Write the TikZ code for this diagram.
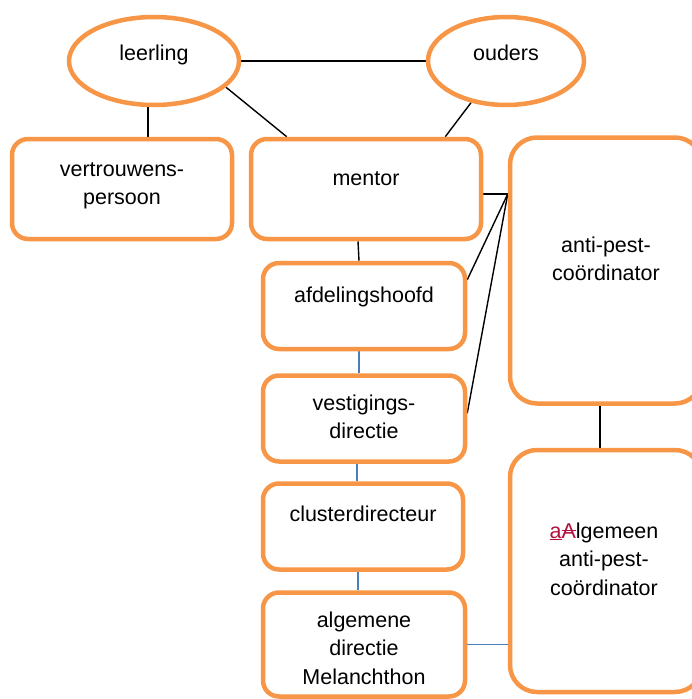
\documentclass[tikz,border=0pt]{standalone}
\usepackage{fontspec}
\setmainfont{Liberation Sans}
\usetikzlibrary{shapes.geometric,calc,backgrounds}
\definecolor{accorange}{HTML}{F79646}
\definecolor{connblue}{HTML}{4A7EBB}
\definecolor{trackred}{HTML}{B3123D}
\newcommand\myunder[1]{\setbox0\hbox{#1}\rlap{\rule[-0.1em]{\wd0}{0.06em}}\box0}
\newcommand\mystrike[1]{\setbox0\hbox{#1}\rlap{\rule[0.34em]{\wd0}{0.06em}}\box0}
\begin{document}
\begin{tikzpicture}[x=1pt,y=-1pt,
 box/.style={draw=accorange,line width=4.5pt,rounded corners=16pt,fill=white,inner sep=0pt},
 bigbox/.style={box,rounded corners=27pt},
 oval/.style={draw=accorange,line width=4.5pt,ellipse,fill=white,inner sep=0pt},
 txt/.style={anchor=north,inner sep=0pt,align=center,font=\fontsize{21.5}{28.5}\selectfont},
 blk/.style={draw=black,line width=1.4pt},
 blu/.style={draw=connblue,line width=1.4pt}]
\useasboundingbox (0,0) rectangle (692,699);
\clip (0,0) rectangle (692,699);
% shapes
\node[oval,minimum width=170pt,minimum height=88pt] (leerling) at (154,61) {};
\node[oval,minimum width=156pt,minimum height=88pt] (ouders) at (506,61) {};
\node[box,minimum width=220pt,minimum height=100pt] (vert) at (122,189) {};
\node[box,minimum width=230pt,minimum height=100pt] (mentor) at (366,189) {};
\node[bigbox,minimum width=192pt,minimum height=266pt] (apc) at (606,270.5) {};
\node[box,minimum width=202pt,minimum height=86pt] (afd) at (364,306) {};
\node[box,minimum width=202pt,minimum height=86pt] (vest) at (364,418.5) {};
\node[box,minimum width=200pt,minimum height=86pt] (clus) at (363,526.5) {};
\node[box,minimum width=202pt,minimum height=104pt] (adm) at (364,644.5) {};
\node[bigbox,minimum width=192pt,minimum height=242pt] (alg) at (606,571) {};
% texts
\node[txt] (tleerling) at (154,40) {\strut leerling};
\node[txt] (touders) at (506,40) {\strut ouders};
\node[txt] (tvert) at (122,156) {\strut vertrouwens-\\\strut persoon};
\node[txt] (tmentor) at (366,165) {\strut mentor};
\node[txt] (tapc) at (606,232) {\strut anti-pest-\\\strut coördinator};
\node[txt] (tafd) at (364,282) {\strut afdelingshoofd};
\node[txt] (tvest) at (364,390) {\strut vestigings-\\\strut directie};
\node[txt] (tclus) at (363,501) {\strut clusterdirecteur};
\node[txt] (tadm) at (364,607) {\strut algemene\\\strut directie\\\strut Melanchthon};
\node[txt] (talg) at (604,518) {\strut{\color{trackred}\myunder{a}\mystrike{A}}lgemeen\\\strut anti-pest-\\\strut coördinator};
% connectors
\coordinate (hub) at ($(apc.west |- mentor.east)+(0,5)$);
\begin{scope}[on background layer]
\draw[blk] (leerling.east) -- (ouders.west);
\draw[blk] ($(leerling.south)+(-6,0)$) -- ($(leerling.south |- vert.north)+(-6,0)$);
\draw[blk] (leerling.-20) -- ($(mentor.north west)+(38,0)$);
\draw[blk] (ouders.-130) -- ($(mentor.north east)+(-38,0)$);
\draw[blk] (hub) -- (hub -| mentor.east);
\draw[blk] (hub) -- ($(afd.north east)+(0,19)$);
\draw[blk] (hub) -- ($(vest.north east)+(0,40)$);
\draw[blk] ($(mentor.south)+(-8,0)$) -- ($(afd.north)+(-5,0)$);
\draw[blu] ($(afd.south)+(-5,0)$) -- ($(vest.north)+(-5,0)$);
\draw[blu] ($(vest.south)+(-7,0)$) -- ($(clus.north)+(-6,0)$);
\draw[blu] ($(clus.south)+(-5,0)$) -- ($(adm.north)+(-6,0)$);
\draw[blu] (adm.east) -- (adm.east -| alg.west);
\draw[blk] ($(apc.south)+(-6,0)$) -- ($(alg.north)+(-6,0)$);
\end{scope}
\end{tikzpicture}
\end{document}
